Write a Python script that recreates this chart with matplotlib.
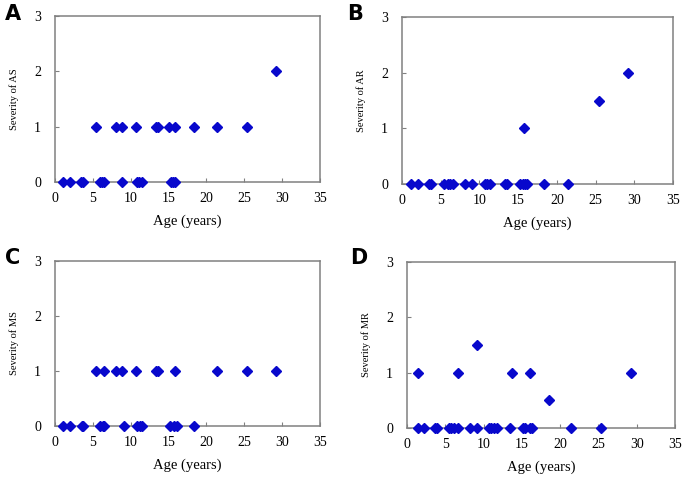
import numpy as np
import matplotlib.pyplot as plt

# panel A - aortic stenosis
as_age = [1.1, 2.0, 3.4, 3.7, 5.9, 6.2, 6.5, 8.9, 10.8, 11.1, 11.5, 15.3, 15.6, 15.9,
          5.4, 8.0, 8.8, 10.7, 13.3, 13.6, 15.0, 15.8, 18.4, 21.4, 25.4, 29.2]
as_sev = [0] * 14 + [1] * 11 + [2]

# panel B - aortic regurgitation
ar_age = [1.2, 2.1, 3.5, 3.7, 5.4, 5.9, 6.2, 6.6, 8.1, 9.1, 10.7, 11.0, 11.4, 13.3, 13.5,
          15.3, 15.6, 15.9, 16.1, 18.4, 21.4, 15.8, 25.4, 29.2]
ar_sev = [0] * 21 + [1, 1.5, 2]

# panel C - mitral stenosis
ms_age = [1.1, 2.0, 3.5, 3.7, 6.0, 6.3, 6.5, 9.1, 10.8, 11.2, 11.5, 15.2, 15.7, 16.1, 18.4,
          5.4, 6.5, 8.0, 8.8, 10.7, 13.3, 13.6, 15.8, 21.4, 25.4, 29.2]
ms_sev = [0] * 15 + [1] * 11

# panel D - mitral regurgitation
mr_age = [1.5, 2.2, 3.6, 3.9, 5.5, 5.8, 6.2, 6.7, 8.2, 9.1, 10.7, 11.0, 11.4, 11.7, 13.4,
          15.1, 15.4, 16.0, 16.3, 21.4, 25.4,
          1.4, 6.7, 13.7, 16.0, 29.2, 9.1, 18.5]
mr_sev = [0] * 21 + [1] * 5 + [1.5, 0.5]

panels = [
    ("A", "Severity of AS", as_age, as_sev, [55, 320, 16, 182], (5, 4)),
    ("B", "Severity of AR", ar_age, ar_sev, [402, 673, 17, 184], (347, 4)),
    ("C", "Severity of MS", ms_age, ms_sev, [55, 320, 261, 426], (5, 248)),
    ("D", "Severity of MR", mr_age, mr_sev, [407, 675, 262, 428], (350, 248)),
]

W, H = 685, 479
fig = plt.figure(figsize=(W / 100, H / 100), dpi=100)
serif = "Liberation Serif"

for letter, ylab, x, y, (l, r, t, b), (lx, ly) in panels:
    ax = fig.add_axes([l / W, 1 - b / H, (r - l) / W, (b - t) / H])
    ax.plot(x, y, "D", color="#0808cc", markersize=4.6, clip_on=False, zorder=3)
    ax.set_xlim(0, 35)
    ax.set_ylim(0, 3)
    ax.set_xticks(np.arange(0, 36, 5))
    ax.set_yticks([0, 1, 2, 3])
    for s in ax.spines.values():
        s.set_color("#808080")
        s.set_linewidth(1.1)
    ax.tick_params(direction="in", length=3, color="#808080", labelsize=10)
    ax.tick_params(axis="x", pad=7)
    ax.tick_params(axis="y", pad=10)
    for lab in ax.get_xticklabels() + ax.get_yticklabels():
        lab.set_fontfamily(serif)
    ax.set_xlabel("Age (years)", fontfamily=serif, fontsize=10.5, labelpad=7)
    ax.set_ylabel(ylab, fontfamily=serif, fontsize=7.5, labelpad=11)
    fig.text(lx / W, 1 - ly / H, letter, fontsize=15, fontweight="bold",
             fontfamily="DejaVu Sans", ha="left", va="top")

fig.savefig("out.png", dpi=100)
